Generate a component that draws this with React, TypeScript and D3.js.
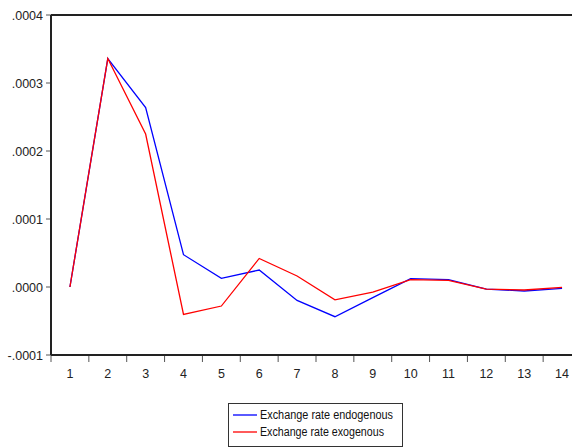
import React from "react";
import * as d3 from "d3";

// Impulse response horizon (periods)
const periods = [1, 2, 3, 4, 5, 6, 7, 8, 9, 10, 11, 12, 13, 14];

// Response of exchange rate under the two specifications
const endogenous = [
  0.0, 0.000336, 0.000264, 0.0000475, 0.0000127, 0.000025, -0.0000197,
  -0.0000437, -0.0000157, 0.0000122, 0.0000107, -0.000003, -0.0000059,
  -0.000002,
];
const exogenous = [
  0.0, 0.000336, 0.000225, -0.0000403, -0.000028, 0.000042, 0.0000162,
  -0.000019, -0.0000074, 0.0000107, 0.0000097, -0.000003, -0.0000044,
  -0.0000006,
];

const yTicks = [-0.0001, 0.0, 0.0001, 0.0002, 0.0003, 0.0004];
const yTickLabels = ["-.0001", ".0000", ".0001", ".0002", ".0003", ".0004"];

const seriesNames = ["Exchange rate endogenous", "Exchange rate exogenous"];
const seriesColors = ["#0000ff", "#ff0000"];

const W = 572;
const H = 448;
const left = 51;
const right = 581;
const top = 15;
const bottom = 355;
const font = "'Liberation Sans', Arial, sans-serif";

export default function App() {
  const x = d3
    .scaleBand<number>()
    .domain(periods)
    .range([left, right])
    .padding(0);
  const y = d3.scaleLinear().domain([-0.0001, 0.0004]).range([bottom, top]);

  const cx = (p: number) => (x(p) as number) + x.bandwidth() / 2;
  const line = d3
    .line<number>()
    .x((_, i) => cx(periods[i]))
    .y((v) => y(v));

  const series = [endogenous, exogenous];

  return (
    <div style={{ position: "fixed", left: 0, top: 0 }}>
      <svg width={W} height={H} style={{ display: "block", background: "#fff" }}>
        <rect x={0} y={0} width={W} height={H} fill="#fff" />

        {/* y ticks and labels */}
        {yTicks.map((t, i) => (
          <g key={i}>
            <line x1={left - 5} x2={left} y1={y(t)} y2={y(t)} stroke="#555" strokeWidth={1} />
            <text
              x={left - 8}
              y={y(t) + 4.5}
              textAnchor="end"
              fontFamily={font}
              fontSize={12.5}
              fill="#222"
            >
              {yTickLabels[i]}
            </text>
          </g>
        ))}

        {/* x ticks at category boundaries */}
        {periods.map((p) => (
          <line
            key={p}
            x1={x(p) as number}
            x2={x(p) as number}
            y1={bottom}
            y2={bottom + 7}
            stroke="#555"
            strokeWidth={1}
          />
        ))}
        {periods.map((p) => (
          <text
            key={p}
            x={cx(p)}
            y={378}
            textAnchor="middle"
            fontFamily={font}
            fontSize={12.5}
            fill="#222"
          >
            {p}
          </text>
        ))}

        {/* frame */}
        <line x1={left} x2={right} y1={top} y2={top} stroke="#222" strokeWidth={2} />
        <line x1={left} x2={right} y1={bottom} y2={bottom} stroke="#222" strokeWidth={2} />
        <line x1={left} x2={left} y1={top} y2={bottom} stroke="#222" strokeWidth={2} />

        {/* series */}
        {series.map((s, i) => (
          <path
            key={i}
            d={line(s) as string}
            fill="none"
            stroke={seriesColors[i]}
            strokeWidth={1.3}
            strokeLinejoin="miter"
          />
        ))}

        {/* legend */}
        <rect x={228.5} y={403.5} width={174} height={43} fill="#fff" stroke="#333" strokeWidth={1} />
        {seriesNames.map((n, i) => (
          <g key={n}>
            <line
              x1={233}
              x2={257}
              y1={415 + i * 17}
              y2={415 + i * 17}
              stroke={seriesColors[i]}
              strokeWidth={1.3}
            />
            <text
              x={260}
              y={419 + i * 17}
              fontFamily={font}
              fontSize={12}
              fill="#111"
              textLength={i === 0 ? 133 : 124}
              lengthAdjust="spacingAndGlyphs"
            >
              {n}
            </text>
          </g>
        ))}
      </svg>
    </div>
  );
}
